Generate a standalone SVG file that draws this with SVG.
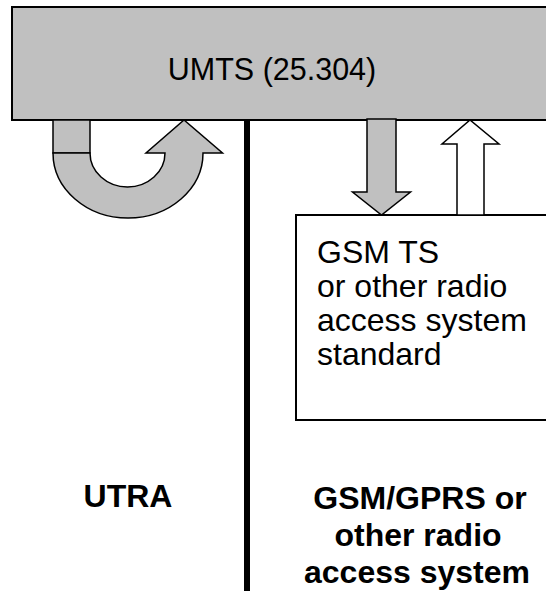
<svg xmlns="http://www.w3.org/2000/svg" width="546" height="591" viewBox="0 0 546 591">
  <style>
    .grey { fill: #c0c0c0; stroke: #000; stroke-width: 1.5; stroke-linejoin: miter; }
    .white { fill: #fff; stroke: #000; stroke-width: 1.5; }
    .box { stroke: #000; stroke-width: 2; }
    .txt { font-family: "Liberation Sans", Arial, sans-serif; font-size: 32px; fill: #000; }
    .bold { font-weight: bold; text-anchor: middle; }
  </style>

  <!-- UMTS layer spanning the full width -->
  <g id="umts">
    <rect class="box" x="12" y="7" width="560" height="113" fill="#c0c0c0"/>
    <text class="txt" x="272" y="80" text-anchor="middle" style="font-size:30.5px">UMTS (25.304)</text>
  </g>

  <!-- GSM / other radio access standard -->
  <g id="gsm-ts">
    <rect class="box" x="296" y="215" width="270" height="205" fill="#fff"/>
    <text class="txt" x="317" y="263">GSM TS</text>
    <text class="txt" x="317" y="297">or other radio</text>
    <text class="txt" x="317" y="331">access system</text>
    <text class="txt" x="317" y="365">standard</text>
  </g>

  <!-- divider between the two access technologies -->
  <g id="divider">
    <rect x="244" y="120" width="6" height="471" fill="#000"/>
  </g>

  <g id="utra-label">
    <text class="txt bold" x="128" y="507">UTRA</text>
  </g>

  <g id="gsm-label">
    <text class="txt bold" x="420" y="509">GSM/GPRS or</text>
    <text class="txt bold" x="418" y="546">other radio</text>
    <text class="txt bold" x="417" y="583">access system</text>
  </g>

  <g id="connectors">
    <!-- U-turn arrow on the UTRA side -->
    <rect class="grey" x="53" y="120" width="37" height="33"/>
    <path class="grey" d="M53,153 A75,65 0 0 0 203,153 L222.5,153 L184,120 L146,153 L165,153 A37.5,34 0 0 1 90,153 Z"/>
    <!-- downward arrow into the GSM standard -->
    <path class="grey" d="M367,119 L396,119 L396,192 L410.5,192 L381.5,215 L352.5,192 L367,192 Z"/>
    <!-- upward arrow back into UMTS -->
    <path class="white" d="M457,215 L457,144 L442,144 L470,120 L499,144 L484,144 L484,215 Z"/>
  </g>
</svg>
